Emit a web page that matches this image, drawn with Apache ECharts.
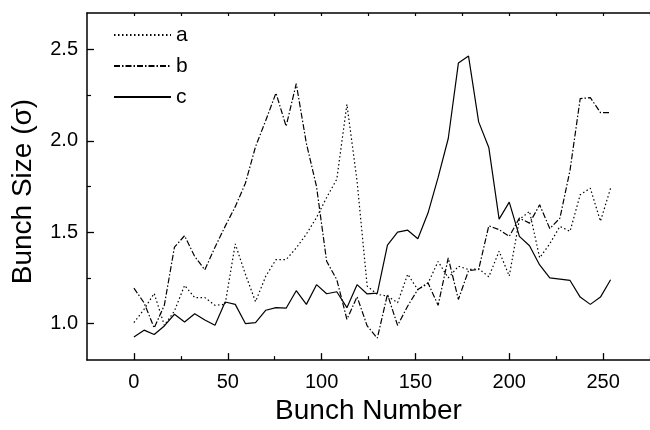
<!DOCTYPE html>
<html>
<head>
<meta charset="utf-8">
<script src="https://cdn.jsdelivr.net/npm/echarts@6/dist/echarts.min.js"></script>
<style>html,body{margin:0;padding:0;background:#fff}#c{width:650px;height:430px}</style>
</head>
<body>
<div id="c"></div>
<script>
var bunchX = [0,5.4,10.8,16.2,21.6,27.0,32.4,37.8,43.2,48.6,54.0,59.4,64.8,70.3,75.7,81.1,86.5,91.9,97.3,102.7,108.1,113.5,118.9,124.3,129.7,135.1,140.5,145.9,151.3,156.7,162.1,167.5,172.9,178.3,183.7,189.1,194.6,200.0,205.4,210.8,216.2,221.6,227.0,232.4,237.8,243.2,248.6,254.0];
var seriesA = [1.005,1.078,1.165,0.99,1.069,1.209,1.142,1.142,1.1,1.105,1.436,1.27,1.12,1.26,1.35,1.35,1.414,1.49,1.58,1.69,1.79,2.2,1.78,1.205,1.16,1.15,1.114,1.27,1.185,1.22,1.34,1.25,1.314,1.296,1.3,1.256,1.396,1.26,1.57,1.614,1.36,1.437,1.532,1.505,1.705,1.741,1.56,1.741];
var seriesB = [1.194,1.114,0.976,1.1,1.418,1.481,1.367,1.294,1.418,1.532,1.64,1.768,1.968,2.113,2.262,2.08,2.313,1.986,1.75,1.341,1.241,1.023,1.147,0.987,0.92,1.16,0.99,1.096,1.187,1.223,1.1,1.359,1.132,1.29,1.296,1.535,1.514,1.477,1.577,1.55,1.65,1.52,1.577,1.84,2.231,2.237,2.155,2.155];
var seriesC = [0.927,0.964,0.94,0.987,1.051,1.009,1.054,1.02,0.991,1.118,1.105,1.0,1.005,1.073,1.087,1.084,1.18,1.105,1.213,1.163,1.174,1.087,1.213,1.162,1.167,1.43,1.501,1.511,1.464,1.605,1.8,2.013,2.426,2.464,2.104,1.964,1.572,1.665,1.477,1.426,1.321,1.25,1.243,1.236,1.145,1.105,1.145,1.24];
var seriesNames = ['a','b','c'];
var xMajorTicks = [0,50,100,150,200,250];
var xMinorTicks = [25,75,125,175,225,275];
var xTopTicks = [0,25,50,75,100,125,150,175,200,225,250,275];
var yMajorTicks = [1.0,1.5,2.0,2.5];
var yMinorTicks = [1.25,1.75,2.25];

function pairs(vals){ return vals.map(function(v,i){ return [bunchX[i], v]; }); }

var FONT = '"Liberation Sans", Arial, sans-serif';
var axisLine = {show:true, onZero:false, lineStyle:{color:'#000', width:1.5}};
var noLine = {show:false, onZero:false};
var chart = echarts.init(document.getElementById('c'), null, {renderer:'canvas'});
chart.setOption({
  animation:false,
  backgroundColor:'#fff',
  grid:{left:87, top:13, width:566, height:349, containLabel:false},
  legend:{
    left:113, top:23, padding:0, orient:'vertical', itemWidth:57, itemHeight:14, itemGap:7,
    itemStyle:{opacity:0},
    textStyle:{fontFamily:FONT, fontSize:21, lineHeight:24, color:'#000'},
    data:seriesNames
  },
  xAxis:[
    {type:'value', position:'bottom', min:-25, max:275, axisLine:axisLine,
     splitLine:{show:false},
     axisTick:{show:true, inside:true, length:7, customValues:xMajorTicks, lineStyle:{color:'#000', width:1.3}},
     axisLabel:{show:true, customValues:xMajorTicks, margin:12, fontFamily:FONT, fontSize:20, color:'#000'},
     name:'Bunch Number', nameLocation:'middle', nameGap:31,
     nameTextStyle:{fontFamily:FONT, fontSize:28, color:'#000'}},
    {type:'value', position:'bottom', min:-25, max:275, axisLine:noLine, splitLine:{show:false},
     axisTick:{show:true, inside:true, length:4, customValues:xMinorTicks, lineStyle:{color:'#000', width:1.2}},
     axisLabel:{show:false}},
    {type:'value', position:'top', min:-25, max:275, axisLine:axisLine, splitLine:{show:false},
     axisTick:{show:true, inside:true, length:3, customValues:xTopTicks, lineStyle:{color:'#000', width:1.2}},
     axisLabel:{show:false}}
  ],
  yAxis:[
    {type:'value', position:'left', min:0.8, max:2.7, axisLine:axisLine, splitLine:{show:false},
     axisTick:{show:true, inside:true, length:7, customValues:yMajorTicks, lineStyle:{color:'#000', width:1.3}},
     axisLabel:{show:true, customValues:yMajorTicks, margin:9, fontFamily:FONT, fontSize:20, color:'#000',
       formatter:function(v){ return Number(v).toFixed(1); }},
     name:'Bunch Size (\u03c3)', nameLocation:'middle', nameGap:50, nameRotate:90,
     nameTextStyle:{fontFamily:FONT, fontSize:28, color:'#000', padding:[0,0,0,-10]}},
    {type:'value', position:'left', min:0.8, max:2.7, axisLine:noLine, splitLine:{show:false},
     axisTick:{show:true, inside:true, length:4, customValues:yMinorTicks, lineStyle:{color:'#000', width:1.2}},
     axisLabel:{show:false}}
  ],
  series:[
    {name:seriesNames[0], type:'line', data:pairs(seriesA), symbol:'none', xAxisIndex:0, yAxisIndex:0,
     lineStyle:{color:'#000', width:1.2, type:[1.5,2.5]}, itemStyle:{color:'#000'}},
    {name:seriesNames[1], type:'line', data:pairs(seriesB), symbol:'none', xAxisIndex:0, yAxisIndex:0,
     lineStyle:{color:'#000', width:1.2, type:[6,2,1.5,2]}, itemStyle:{color:'#000'}},
    {name:seriesNames[2], type:'line', data:pairs(seriesC), symbol:'none', xAxisIndex:0, yAxisIndex:0,
     lineStyle:{color:'#000', width:1.2, type:'solid'}, itemStyle:{color:'#000'}}
  ]
});
</script>
</body>
</html>
